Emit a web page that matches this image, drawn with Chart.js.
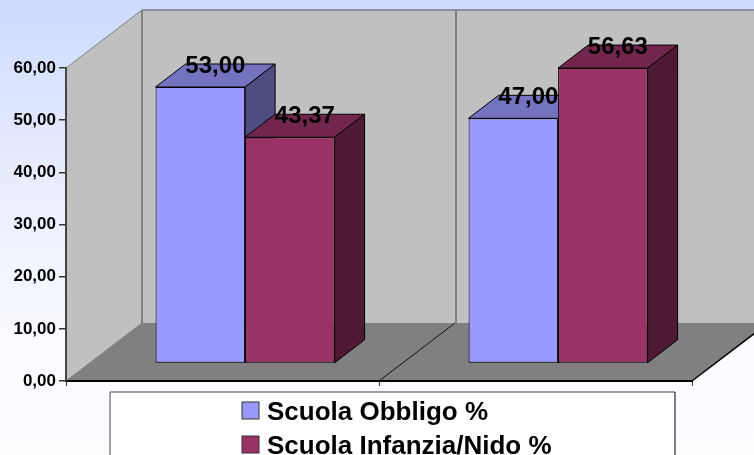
<!DOCTYPE html>
<html>
<head>
<meta charset="utf-8">
<title>Scuola Obbligo / Infanzia</title>
<script src="https://cdn.jsdelivr.net/npm/chart.js@4"></script>
<style>
  html, body { margin: 0; padding: 0; background: #fff; overflow: hidden; }
  canvas { display: block; }
</style>
</head>
<body>
<canvas id="barChart" width="754" height="455"></canvas>
<script>
const categories = ['Gruppo 1', 'Gruppo 2'];
const seriesNames = ['Scuola Obbligo %', 'Scuola Infanzia/Nido %'];
const obbligoValues = [53.00, 47.00];
const infanziaValues = [43.37, 56.63];
const yTickStep = 10;
const yMax = 60;

const FONT = '"Liberation Sans", Arial, sans-serif';

// 3D box offsets, in px
const WALL_DX = 76, WALL_DY = 58;
const BAR_DX = 22.6, BAR_DY = 17.5;
const BOX_DX = 30, BOX_DY = 23;

function fmt(v) { return v.toFixed(2).replace('.', ','); }

function fillPoly(ctx, pts, fill) {
    ctx.beginPath();
    pts.forEach((p, i) => i ? ctx.lineTo(p[0], p[1]) : ctx.moveTo(p[0], p[1]));
    ctx.closePath();
    ctx.fillStyle = fill;
    ctx.fill();
}

function strokeLine(ctx, x1, y1, x2, y2, color, width) {
    ctx.beginPath();
    ctx.moveTo(x1, y1);
    ctx.lineTo(x2, y2);
    ctx.strokeStyle = color;
    ctx.lineWidth = width;
    ctx.stroke();
}

// Background, walls and floor go under the axes
const roomPlugin = {
    id: 'room',
    beforeDraw(chart) {
        const ctx = chart.ctx;
        const { left, right, top, bottom } = chart.chartArea;
        const midX = (chart.scales.x.getPixelForValue(0) + chart.scales.x.getPixelForValue(1)) / 2;

        ctx.save();
        const bg = ctx.createLinearGradient(0, 0, 0, chart.height);
        bg.addColorStop(0, '#cddaff');
        bg.addColorStop(0.35, '#e6ebff');
        bg.addColorStop(0.75, '#fafbff');
        bg.addColorStop(1, '#fcfdff');
        ctx.fillStyle = bg;
        ctx.fillRect(0, 0, chart.width, chart.height);

        const backL = left + WALL_DX, backR = right + WALL_DX;
        const backT = top - WALL_DY, backB = bottom - WALL_DY;

        fillPoly(ctx, [[left, top], [backL, backT], [backL, backB], [left, bottom]], '#c0c0c0');
        fillPoly(ctx, [[backL, backT], [backR, backT], [backR, backB], [backL, backB]], '#c0c0c0');
        fillPoly(ctx, [[left, bottom], [right, bottom], [backR, backB], [backL, backB]], '#808080');

        strokeLine(ctx, left, top, backL, backT, '#808080', 1);
        strokeLine(ctx, backL, backT, backR, backT, '#808080', 1.5);
        strokeLine(ctx, backL, backT, backL, backB, '#808080', 2);
        strokeLine(ctx, midX + WALL_DX + 1, backT, midX + WALL_DX + 1, backB, '#808080', 2);
        strokeLine(ctx, left, bottom, backL, backB, '#808080', 1);
        strokeLine(ctx, midX, bottom, midX + WALL_DX, backB, '#111', 1);
        strokeLine(ctx, right, bottom, backR, backB, '#000', 1.5);
        ctx.restore();
    }
};

// Each series is painted left to right, faces first, so the right bar
// sits in front of its neighbour's side
const boxPlugin = {
    id: 'box',
    beforeDatasetsDraw(chart) {
        const ctx = chart.ctx;
        ctx.save();
        // bars stand inside the room, so shift them off the front edge
        ctx.translate(BAR_DX, -BAR_DY);
        chart.data.datasets.forEach((ds, i) => {
            chart.getDatasetMeta(i).data.forEach(bar => {
                const p = bar.getProps(['x', 'y', 'base', 'width'], true);
                const l = p.x - p.width / 2, r = p.x + p.width / 2;
                ctx.strokeStyle = '#000';
                ctx.lineWidth = 1;
                fillPoly(ctx, [[l, p.y], [r, p.y], [r + BOX_DX, p.y - BOX_DY], [l + BOX_DX, p.y - BOX_DY]], ds.topColor);
                ctx.stroke();
                fillPoly(ctx, [[r, p.y], [r + BOX_DX, p.y - BOX_DY], [r + BOX_DX, p.base - BOX_DY], [r, p.base]], ds.sideColor);
                ctx.stroke();
                bar.draw(ctx);
            });
        });
        ctx.restore();
    },
    // already painted above
    beforeDatasetDraw() {
        return false;
    }
};

// Value labels and the legend box on top of everything
const labelPlugin = {
    id: 'labels',
    afterDraw(chart) {
        const ctx = chart.ctx;
        ctx.save();
        ctx.fillStyle = '#000';
        ctx.textAlign = 'center';
        ctx.textBaseline = 'middle';
        ctx.font = 'bold 24px ' + FONT;
        chart.data.datasets.forEach((ds, i) => {
            chart.getDatasetMeta(i).data.forEach((bar, j) => {
                const p = bar.getProps(['x', 'y'], true);
                ctx.fillText(fmt(ds.data[j]), p.x + BAR_DX + 15, p.y - BAR_DY - 21);
            });
        });

        ctx.fillStyle = '#fff';
        ctx.fillRect(110, 392, 565, 70);
        strokeLine(ctx, 110, 392, 675, 392, '#808080', 1.5);
        strokeLine(ctx, 110, 392, 110, 455, '#808080', 1.5);
        strokeLine(ctx, 675, 392, 675, 455, '#000', 1);

        ctx.textAlign = 'left';
        ctx.font = 'bold 26px ' + FONT;
        chart.data.datasets.forEach((ds, i) => {
            const y = 411 + i * 34;
            ctx.fillStyle = ds.backgroundColor;
            ctx.fillRect(242, y - 9, 17, 17);
            ctx.strokeStyle = '#333';
            ctx.lineWidth = 1;
            ctx.strokeRect(242, y - 9, 17, 17);
            ctx.fillStyle = '#000';
            ctx.fillText(ds.label, 267, y + 2);
        });
        ctx.restore();
    }
};

new Chart(document.getElementById('barChart').getContext('2d'), {
    type: 'bar',
    data: {
        labels: categories,
        datasets: [
            {
                label: seriesNames[0],
                data: obbligoValues,
                backgroundColor: '#9999ff',
                topColor: '#7373bf',
                sideColor: '#4d4d80',
                borderColor: '#000',
                borderWidth: 1,
                borderSkipped: false
            },
            {
                label: seriesNames[1],
                data: infanziaValues,
                backgroundColor: '#993366',
                topColor: '#73264d',
                sideColor: '#4d1933',
                borderColor: '#000',
                borderWidth: 1,
                borderSkipped: false
            }
        ]
    },
    options: {
        responsive: false,
        animation: false,
        layout: { padding: { top: 68, right: 62, bottom: 69, left: 0 } },
        datasets: { bar: { barPercentage: 1, categoryPercentage: 0.572 } },
        plugins: { legend: { display: false }, tooltip: { enabled: false } },
        scales: {
            x: {
                afterFit(scale) { scale.height = 5; },
                ticks: { display: false },
                border: { color: '#000', width: 2 },
                grid: { drawOnChartArea: false, color: '#333', tickLength: 5 }
            },
            y: {
                min: 0,
                max: yMax,
                afterFit(scale) { scale.width = 66; },
                border: { color: '#444', width: 2 },
                grid: { drawOnChartArea: false, color: '#333', tickLength: 7, lineWidth: 1.5 },
                ticks: {
                    stepSize: yTickStep,
                    padding: 3,
                    color: '#000',
                    font: { family: FONT, size: 17, weight: 'bold' },
                    callback: v => fmt(v)
                }
            }
        }
    },
    plugins: [roomPlugin, boxPlugin, labelPlugin]
});
</script>
</body>
</html>
